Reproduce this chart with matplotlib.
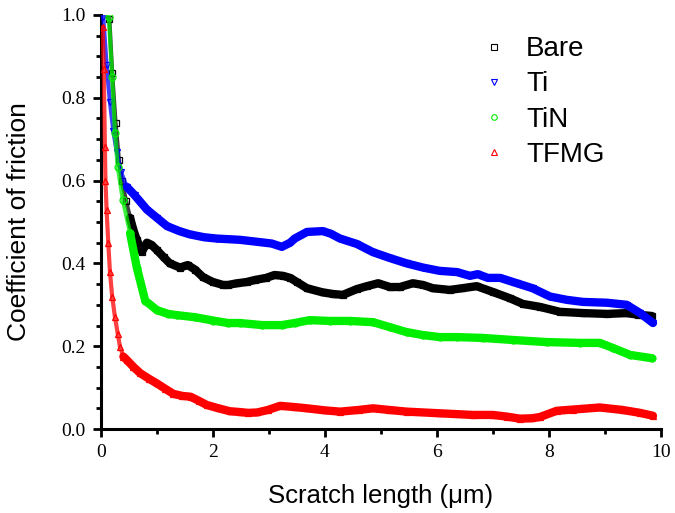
import matplotlib
matplotlib.use('Agg')
from matplotlib import pyplot as plt

# values
bare_x = [0.15, 0.2, 0.26, 0.32, 0.37, 0.45, 0.52, 0.58, 0.64, 0.73, 0.82, 0.9, 1.0, 1.12, 1.23,
          1.41, 1.55, 1.68, 1.82, 2.0, 2.18, 2.27, 2.43, 2.6, 2.75, 2.95, 3.1, 3.25, 3.38, 3.5,
          3.68, 3.96, 4.15, 4.32, 4.57, 4.75, 4.95, 5.16, 5.34, 5.57, 5.75, 5.93, 6.23, 6.45,
          6.71, 7.0, 7.3, 7.54, 7.84, 8.2, 8.61, 9.04, 9.39, 9.6, 9.84]
bare_y = [0.99, 0.86, 0.74, 0.65, 0.6, 0.55, 0.51, 0.48, 0.457, 0.428, 0.45, 0.445, 0.432, 0.415, 0.4,
          0.39, 0.396, 0.385, 0.367, 0.355, 0.348, 0.348, 0.352, 0.355, 0.36, 0.365, 0.372, 0.37, 0.365, 0.355,
          0.34, 0.33, 0.326, 0.324, 0.338, 0.345, 0.352, 0.343, 0.343, 0.352, 0.348, 0.34, 0.336, 0.34,
          0.345, 0.331, 0.316, 0.302, 0.295, 0.283, 0.28, 0.278, 0.28, 0.276, 0.273]

ti_x = [0.04, 0.1, 0.16, 0.22, 0.28, 0.36, 0.46, 0.6, 0.82, 1.0, 1.18, 1.4, 1.59, 1.85, 2.07,
        2.48, 2.8, 3.05, 3.23, 3.38, 3.46, 3.68, 3.96, 4.1, 4.27, 4.57, 4.86, 5.16, 5.46, 5.75,
        6.05, 6.36, 6.59, 6.73, 6.91, 7.13, 7.43, 7.71, 8.02, 8.32, 8.61, 9.04, 9.39, 9.63, 9.86]
ti_y = [0.995, 0.88, 0.79, 0.72, 0.67, 0.62, 0.585, 0.565, 0.53, 0.51, 0.49, 0.478, 0.47, 0.463, 0.46,
        0.457, 0.452, 0.448, 0.44, 0.45, 0.46, 0.476, 0.478, 0.472, 0.46, 0.447, 0.427, 0.413, 0.4, 0.39,
        0.382, 0.379, 0.37, 0.374, 0.365, 0.365, 0.352, 0.34, 0.32, 0.312, 0.307, 0.305, 0.3, 0.28, 0.256]

tin_x = [0.14, 0.2, 0.25, 0.3, 0.39, 0.52, 0.64, 0.79, 1.0, 1.2, 1.36, 1.68, 2.0, 2.27, 2.48,
         2.88, 3.23, 3.46, 3.73, 4.09, 4.45, 4.86, 5.16, 5.46, 5.75, 6.05, 6.36, 6.82, 7.36,
         7.96, 8.55, 8.91, 9.14, 9.45, 9.84]
tin_y = [0.995, 0.85, 0.715, 0.633, 0.553, 0.473, 0.39, 0.31, 0.287, 0.278, 0.275, 0.27, 0.262, 0.256, 0.256,
         0.251, 0.251, 0.256, 0.263, 0.261, 0.261, 0.258, 0.246, 0.234, 0.227, 0.222, 0.222, 0.22, 0.215,
         0.21, 0.208, 0.208, 0.196, 0.179, 0.171]

tfmg_x = [0.03, 0.05, 0.07, 0.08, 0.1, 0.13, 0.16, 0.2, 0.25, 0.3, 0.34, 0.4, 0.46, 0.58, 0.7,
          0.85, 1.0, 1.15, 1.29, 1.45, 1.6, 1.75, 1.89, 2.1, 2.3, 2.48, 2.63, 2.79, 2.98, 3.2,
          3.46, 3.68, 4.0, 4.27, 4.6, 4.86, 5.15, 5.46, 6.05, 6.64, 7.0, 7.25, 7.48, 7.7, 7.84,
          8.14, 8.43, 8.91, 9.32, 9.63, 9.86]
tfmg_y = [0.97, 0.87, 0.68, 0.6, 0.53, 0.45, 0.38, 0.32, 0.27, 0.23, 0.198, 0.175, 0.167, 0.15, 0.135,
          0.122, 0.11, 0.097, 0.085, 0.08, 0.078, 0.068, 0.058, 0.05, 0.043, 0.041, 0.039, 0.04, 0.046, 0.056,
          0.053, 0.05, 0.045, 0.042, 0.046, 0.05, 0.046, 0.042, 0.038, 0.034, 0.034, 0.03, 0.025, 0.026, 0.029,
          0.044, 0.047, 0.052, 0.046, 0.039, 0.032]

# name, x, y, marker, colour, index where the steep start ends
series = [
    ('Bare', bare_x, bare_y, 's', 'black', 6),
    ('Ti', ti_x, ti_y, 'v', '#0000ff', 6),
    ('TiN', tin_x, tin_y, 'o', '#00ee00', 5),
    ('TFMG', tfmg_x, tfmg_y, '^', '#ff0000', 11),
]

fig = plt.figure(figsize=(6.75, 5.13), dpi=100)
ax = fig.add_axes([0.1496, 0.1637, 0.8294, 0.8071])

for i, (name, xs, ys, mk, col, k) in enumerate(series):
    z = 2 + i
    ax.plot(xs[:k + 1], ys[:k + 1], '-', color=col, lw=3, alpha=0.75, zorder=z)
    ax.plot(xs[k:], ys[k:], '-', color=col, lw=6, solid_capstyle='round', zorder=z)
    ax.plot(xs, ys, mk, color=col, mfc='none', ms=5, mew=0.9, zorder=z)

ax.set_xlim(0, 10)
ax.set_ylim(0, 1.0)
ax.set_xticks([0, 2, 4, 6, 8, 10])
ax.set_xticks([1, 3, 5, 7, 9], minor=True)
ax.set_yticks([0.0, 0.2, 0.4, 0.6, 0.8, 1.0])
ax.set_yticks([0.05 * i for i in range(21)], minor=True)
ax.set_yticklabels(['0.0', '0.2', '0.4', '0.6', '0.8', '1.0'])

for s in ['top', 'right']:
    ax.spines[s].set_visible(False)
for s in ['left', 'bottom']:
    ax.spines[s].set_linewidth(2.2)

ax.tick_params(which='major', direction='out', length=6, width=2, pad=5)
ax.tick_params(which='minor', direction='out', length=3.5, width=2)
for lab in ax.get_xticklabels() + ax.get_yticklabels():
    lab.set_fontfamily('Liberation Serif')
    lab.set_fontsize(14)

ax.set_xlabel('Scratch length (\u03bcm)', fontsize=18.5, family='Liberation Sans', labelpad=16)
ax.set_ylabel('Coefficient of friction', fontsize=19, family='Liberation Sans', labelpad=22)

handles = [plt.Line2D([], [], ls='none', marker=s[3], color=s[4], mfc='none', ms=4, mew=0.8)
           for s in series]
ax.legend(handles, [s[0] for s in series], frameon=False, loc='upper left',
          bbox_to_anchor=(0.695, 0.951), bbox_transform=fig.transFigure,
          prop={'family': 'Liberation Sans', 'size': 20},
          handlelength=1.0, handletextpad=0.65, labelspacing=0.33, borderaxespad=0.0)

fig.savefig('out.png', dpi=100)
